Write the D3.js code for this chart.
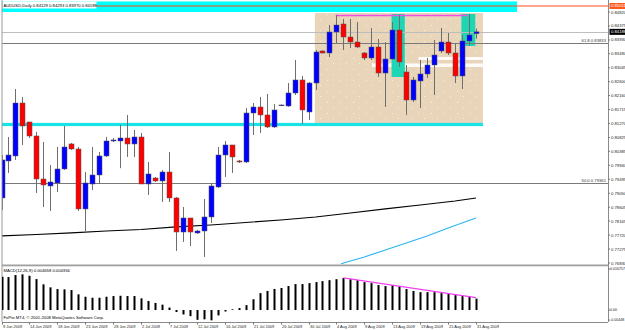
<!DOCTYPE html>
<html><head><meta charset="utf-8">
<script src="https://cdn.jsdelivr.net/npm/d3@7"></script>
<style>html,body{margin:0;padding:0;background:#fff;}svg{display:block;font-family:"Liberation Sans",Arial,sans-serif;}</style>
</head><body>
<script>
// ---- data ----
const opens  = [0.78900,0.80078,0.80237,0.81923,0.81319,0.80873,0.79504,0.79282,0.79377,0.79823,0.80619,0.80459,0.78550,0.79345,0.79632,0.80237,0.80714,0.80714,0.80809,0.80619,0.80841,0.79345,0.79536,0.79441,0.79727,0.78900,0.77817,0.78263,0.77786,0.77849,0.78295,0.79250,0.80268,0.80587,0.80078,0.80046,0.81605,0.81796,0.81542,0.81160,0.81850,0.81828,0.82242,0.82656,0.81637,0.82560,0.83579,0.83515,0.84183,0.84438,0.84024,0.83865,0.83515,0.83356,0.83706,0.82878,0.83324,0.84247,0.82910,0.82019,0.82624,0.82847,0.83133,0.83579,0.83865,0.83515,0.82783,0.83897,0.84129];
const highs  = [0.80268,0.80841,0.82369,0.82115,0.81319,0.81000,0.80682,0.79950,0.80523,0.81192,0.80651,0.80523,0.79727,0.80523,0.80364,0.80841,0.80809,0.81224,0.81542,0.81063,0.80969,0.80046,0.79568,0.79791,0.80364,0.78931,0.78613,0.78263,0.77881,0.78868,0.79377,0.80523,0.80714,0.80587,0.80110,0.81764,0.81923,0.82115,0.82210,0.81892,0.81880,0.82560,0.83292,0.82783,0.82592,0.83611,0.83595,0.84406,0.84725,0.84597,0.84597,0.84502,0.83547,0.84311,0.83961,0.83865,0.84502,0.84725,0.83133,0.82751,0.83292,0.83356,0.83929,0.84311,0.84152,0.83833,0.84088,0.84756,0.84293];
const lows   = [0.78518,0.79695,0.80110,0.80587,0.80809,0.79059,0.78613,0.78486,0.79090,0.79791,0.80428,0.78486,0.77849,0.79154,0.79345,0.80205,0.80682,0.79848,0.80205,0.80205,0.79345,0.78995,0.79409,0.78772,0.78772,0.77213,0.77500,0.77372,0.77754,0.77022,0.78104,0.79218,0.79568,0.79695,0.80014,0.80014,0.80905,0.80969,0.81128,0.81128,0.81830,0.81796,0.82178,0.81256,0.81382,0.82337,0.83499,0.83388,0.83833,0.83611,0.83674,0.83674,0.83292,0.83292,0.82751,0.81796,0.83308,0.83070,0.81542,0.81955,0.81764,0.82719,0.82178,0.83515,0.83451,0.82560,0.82369,0.83738,0.83970];
const closes = [0.80110,0.80268,0.81923,0.81192,0.80873,0.79504,0.79314,0.79409,0.79823,0.80523,0.80459,0.78550,0.79377,0.79632,0.80237,0.80714,0.80746,0.80809,0.80619,0.80841,0.79345,0.79664,0.79441,0.79727,0.78900,0.77817,0.78263,0.77817,0.77849,0.78295,0.79282,0.80268,0.80587,0.80205,0.80046,0.81605,0.81796,0.81542,0.81160,0.81701,0.81860,0.82242,0.82656,0.81701,0.82560,0.83547,0.83515,0.84183,0.84406,0.84024,0.83865,0.83706,0.83356,0.83706,0.82878,0.83324,0.84247,0.83229,0.82019,0.82656,0.82847,0.83133,0.83451,0.83865,0.83515,0.82783,0.83897,0.84088,0.84188];
const macdHist = [0.01359,0.01346,0.01428,0.01457,0.01399,0.01265,0.01049,0.00926,0.00857,0.00845,0.00816,0.00641,0.00543,0.00502,0.00502,0.00543,0.00571,0.00583,0.00571,0.00571,0.00477,0.00370,0.00290,0.00220,0.00100,-0.00080,-0.00180,-0.00250,-0.00400,-0.00380,-0.00420,-0.00220,-0.00060,0.00030,0.00080,0.00200,0.00440,0.00690,0.00780,0.00860,0.00900,0.00980,0.01060,0.01060,0.01100,0.01140,0.01180,0.01220,0.01260,0.01310,0.01260,0.01220,0.01140,0.01100,0.01020,0.00980,0.01020,0.00980,0.00860,0.00780,0.00730,0.00730,0.00730,0.00690,0.00690,0.00610,0.00570,0.00570,0.00466];
const maSlowIdx = [0,5,10,15,20,25,30,35,40,45,50,55,60,65,68];
const maSlowVal = [0.77690,0.77738,0.77786,0.77849,0.77897,0.77977,0.78040,0.78120,0.78199,0.78295,0.78422,0.78550,0.78677,0.78804,0.78900];
const maFastIdx = [47,49,52,55,58,61,64,66,68];
const maFastVal = [0.76608,0.76831,0.77022,0.77245,0.77467,0.77690,0.77945,0.78104,0.78263];
const dateLabels = ["9 Jun 2009","14 Jun 2009","18 Jun 2009","23 Jun 2009","28 Jun 2009","2 Jul 2009","7 Jul 2009","12 Jul 2009","16 Jul 2009","21 Jul 2009","26 Jul 2009","30 Jul 2009","4 Aug 2009","9 Aug 2009","13 Aug 2009","19 Aug 2009","25 Aug 2009","31 Aug 2009"];
const priceTicks = ["0.84820","0.84375","0.83930","0.83490","0.83045","0.82600","0.82160","0.81715","0.81270","0.80825","0.80385","0.79940","0.79495","0.79050","0.78605","0.78165","0.77720","0.77275","0.76830"];
const macdTicks = [["0.016757",0.016757],["0.00",0],["-0.00448",-0.00448]];
const header = "AUDUSD,Daily  0.84129 0.84293 0.83970 0.84188";
const macdTitle = "MACD(12,26,9) 0.004658 0.004356";
const copyright = "FxPro MT4, \u00a9 2001-2008 MetaQuotes Software Corp.";
// drawn objects (price levels / bar ranges)
const topBand = [0.85154, 0.84820];
const orangeLevel = 0.85011;
const bidLevel = 0.84188;
const supportLevel = 0.81239;
const fibLevels = [["61.8 0.83833",0.83833],["50.0 0.79361",0.79361]];
const tanZone = {x0:44.9, x1:69.0, p0:0.84788, p1:0.81287};
const tealZones = [{x0:55.9,x1:57.8,p0:0.84756,p1:0.82751},{x0:65.9,x1:67.9,p0:0.84756,p1:0.83738}];
const whiteStripes = [{x0:59.8,x1:69.0,p0:0.83388,p1:0.83292},{x0:53.1,x1:69.0,p0:0.83181,p1:0.83070}];
const pinkLine = {x0:47.9,x1:66.8,p:0.84709};
const macdTrend = [[49,0.0131],[68,0.0051]];

// ---- drawing ----
const W=625,H=330;
const svg=d3.select("body").append("svg").attr("width",W).attr("height",H);
const x=d3.scaleLinear().domain([0,68]).range([1.5,476]);
const y=d3.scaleLinear().domain([0.76830,0.84820]).range([263,12]);
const ym=d3.scaleLinear().domain([-0.00448,0.016757]).range([321,269]);
const axisX=608;
const defs=svg.append("defs");
defs.append("clipPath").attr("id","mainClip").append("rect").attr("x",2).attr("y",0).attr("width",axisX-2).attr("height",264);
defs.append("clipPath").attr("id","macdClip").append("rect").attr("x",2).attr("y",267).attr("width",axisX-2).attr("height",55);
const pat=defs.append("pattern").attr("id","dots").attr("width",13).attr("height",11).attr("patternUnits","userSpaceOnUse");
pat.append("rect").attr("width",13).attr("height",11).attr("fill","#E9D5BA");
pat.append("rect").attr("x",2).attr("y",3).attr("width",1).attr("height",1).attr("fill","#fff").attr("opacity",0.6);
pat.append("rect").attr("x",8).attr("y",8).attr("width",1).attr("height",1).attr("fill","#fff").attr("opacity",0.6);

const main=svg.append("g").attr("clip-path","url(#mainClip)");
main.append("rect").attr("x",2).attr("y",y(topBand[0])).attr("width",517-2).attr("height",y(topBand[1])-y(topBand[0])).attr("fill","#00FFFF");
main.append("rect").attr("x",x(tanZone.x0)).attr("y",y(tanZone.p0)).attr("width",x(tanZone.x1)-x(tanZone.x0)).attr("height",y(tanZone.p1)-y(tanZone.p0)).attr("fill","url(#dots)");
whiteStripes.forEach(s=>main.append("rect").attr("x",x(s.x0)).attr("y",y(s.p0)).attr("width",x(s.x1)-x(s.x0)).attr("height",y(s.p1)-y(s.p0)).attr("fill","#fff").attr("opacity",0.9));
tealZones.forEach(s=>main.append("rect").attr("x",x(s.x0)).attr("y",y(s.p0)).attr("width",x(s.x1)-x(s.x0)).attr("height",y(s.p1)-y(s.p0)).attr("fill","#1FD6B4"));
main.append("rect").attr("x",2).attr("y",y(supportLevel)-1.6).attr("width",x(tanZone.x1)-2).attr("height",3.2).attr("fill","#19E3E6");
fibLevels.forEach(f=>main.append("line").attr("x1",2).attr("x2",axisX).attr("y1",Math.round(y(f[1]))+0.5).attr("y2",Math.round(y(f[1]))+0.5).attr("stroke","#7a7a7a").attr("stroke-width",1));
main.append("line").attr("x1",2).attr("x2",axisX).attr("y1",Math.round(y(bidLevel))+0.5).attr("y2",Math.round(y(bidLevel))+0.5).attr("stroke","#BDBDBD").attr("stroke-width",1);
const ln=d3.line().x(d=>x(d[0])).y(d=>y(d[1]));
main.append("path").attr("d",ln(maSlowIdx.map((d,i)=>[d,maSlowVal[i]]))).attr("fill","none").attr("stroke","#000").attr("stroke-width",1.2);
main.append("path").attr("d",ln(maFastIdx.map((d,i)=>[d,maFastVal[i]]))).attr("fill","none").attr("stroke","#2BB5F0").attr("stroke-width",1.2);
main.append("line").attr("x1",x(pinkLine.x0)).attr("x2",x(pinkLine.x1)).attr("y1",y(pinkLine.p)).attr("y2",y(pinkLine.p)).attr("stroke","#F050E0").attr("stroke-width",1.5);
main.append("line").attr("x1",2).attr("x2",axisX).attr("y1",y(orangeLevel)).attr("y2",y(orangeLevel)).attr("stroke","#FF4A1A").attr("stroke-width",1);
const bars=d3.range(opens.length);
const cg=main.append("g");
cg.selectAll("line.w").data(bars).join("line").attr("x1",i=>Math.round(x(i))+0.5).attr("x2",i=>Math.round(x(i))+0.5)
 .attr("y1",i=>y(highs[i])).attr("y2",i=>y(lows[i])).attr("stroke","#6e6e6e").attr("stroke-width",1);
cg.selectAll("rect.b").data(bars).join("rect")
 .attr("x",i=>Math.round(x(i))-2).attr("width",5)
 .attr("y",i=>y(Math.max(opens[i],closes[i])))
 .attr("height",i=>Math.max(0.8,Math.abs(y(opens[i])-y(closes[i]))))
 .attr("fill",i=>closes[i]>opens[i]?"#0000FF":(closes[i]<opens[i]?"#FF0000":"#6e6e6e"))
 .attr("stroke","#555").attr("stroke-width",0.5);
svg.append("rect").attr("x",2.5).attr("y",1.5).attr("width",94).attr("height",7).attr("fill","#fff");
svg.append("text").attr("x",3.5).attr("y",7.3).attr("font-size",4.2).attr("fill","#000").text(header);

svg.append("line").attr("x1",2).attr("x2",2).attr("y1",0).attr("y2",322).attr("stroke","#9a9a9a");
svg.append("line").attr("x1",axisX+0.5).attr("x2",axisX+0.5).attr("y1",0).attr("y2",322).attr("stroke","#8a8a8a");
svg.append("rect").attr("x",2).attr("y",264.5).attr("width",axisX-2).attr("height",1.8).attr("fill","#a0a0a0");
svg.append("line").attr("x1",2).attr("x2",axisX).attr("y1",322.5).attr("y2",322.5).attr("stroke","#8a8a8a");

const ra=svg.append("g").attr("font-size",4.2).attr("fill","#222");
priceTicks.forEach(t=>{const yy=y(+t);
 ra.append("line").attr("x1",axisX).attr("x2",axisX+2).attr("y1",yy).attr("y2",yy).attr("stroke","#777");
 ra.append("text").attr("x",611).attr("y",yy+1.5).text(t);});
svg.append("rect").attr("x",609.5).attr("y",y(orangeLevel)-3).attr("width",16).attr("height",6).attr("fill","#FF5A1E");
svg.append("text").attr("x",611).attr("y",y(orangeLevel)+1.5).attr("font-size",4.2).attr("fill","#fff").text(d3.format(".5f")(orangeLevel));
svg.append("rect").attr("x",609.5).attr("y",y(bidLevel)-3).attr("width",16).attr("height",6).attr("fill","#000");
svg.append("text").attr("x",611).attr("y",y(bidLevel)+1.5).attr("font-size",4.2).attr("fill","#fff").text(d3.format(".5f")(bidLevel));
fibLevels.forEach(f=>svg.append("text").attr("x",606).attr("y",y(f[1])-1.2).attr("text-anchor","end").attr("font-size",4.2).attr("fill","#333").text(f[0]));

const mg=svg.append("g").attr("clip-path","url(#macdClip)");
mg.selectAll("rect").data(bars).join("rect").attr("x",i=>Math.round(x(i))-0.5).attr("width",2)
 .attr("y",i=>Math.min(ym(macdHist[i]),ym(0))).attr("height",i=>Math.abs(ym(macdHist[i])-ym(0))).attr("fill","#000");
mg.append("line").attr("x1",x(macdTrend[0][0])).attr("y1",ym(macdTrend[0][1])).attr("x2",x(macdTrend[1][0])).attr("y2",ym(macdTrend[1][1])).attr("stroke","#F040F0").attr("stroke-width",1.2);
svg.append("text").attr("x",3.5).attr("y",271.5).attr("font-size",4.2).attr("fill","#000").text(macdTitle);
svg.append("text").attr("x",3.5).attr("y",319).attr("font-size",4.2).attr("fill","#000").text(copyright);
macdTicks.forEach(t=>{const yy=Math.min(Math.max(ym(t[1]),268.5),320);
 svg.append("line").attr("x1",axisX).attr("x2",axisX+2).attr("y1",yy).attr("y2",yy).attr("stroke","#777");
 svg.append("text").attr("x",610).attr("y",yy+1.4).attr("font-size",3.6).attr("fill","#222").text(t[0]);});

const xa=svg.append("g").attr("font-size",3.9).attr("fill","#222");
dateLabels.forEach((d,k)=>{const xx=Math.round(x(k*4))+0.5;
 xa.append("line").attr("x1",xx).attr("x2",xx).attr("y1",322).attr("y2",324.5).attr("stroke","#777");
 xa.append("text").attr("x",xx+0.5).attr("y",328.3).text(d);});
</script>
</body></html>
